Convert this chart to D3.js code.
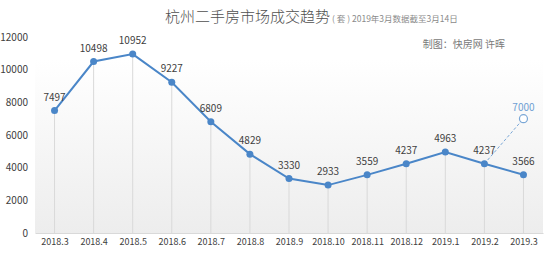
<!DOCTYPE html>
<html><head><meta charset="utf-8">
<script src="https://cdn.jsdelivr.net/npm/d3@7"></script>
<style>body{margin:0;background:#fff}svg{display:block}text{font-family:"Noto Sans CJK SC","DejaVu Sans",sans-serif}</style>
</head><body>
<svg id="c" width="553" height="255"></svg>
<script>
const categories = ["2018.3","2018.4","2018.5","2018.6","2018.7","2018.8","2018.9","2018.10","2018.11","2018.12","2019.1","2019.2","2019.3"];
const values = [7497,10498,10952,9227,6809,4829,3330,2933,3559,4237,4963,4237,3566];
const forecastValue = 7000;
const yTicks = [0,2000,4000,6000,8000,10000,12000];

(function(){
const svg = d3.select("#c");
const pl = 35, pr = 543, pt = 37, pb = 233;
const x = d3.scalePoint().domain(categories).range([pl, pr]).padding(0.5);
const y = d3.scaleLinear().domain([0, 12000]).range([pb, pt]);

const defs = svg.append("defs");
const g = defs.append("linearGradient").attr("id","bg").attr("x1",0).attr("y1",0).attr("x2",0).attr("y2",1);
g.append("stop").attr("offset","0%").attr("stop-color","#ffffff");
g.append("stop").attr("offset","100%").attr("stop-color","#ededed");
svg.append("rect").attr("x",pl).attr("y",60).attr("width",pr-pl).attr("height",pb-60).attr("fill","url(#bg)");

const yAxis = d3.axisLeft(y).tickValues(yTicks).tickSize(0).tickPadding(6).tickFormat(d3.format("d"));
const ya = svg.append("g").attr("transform",`translate(${pl-1},0)`).call(yAxis);
ya.select(".domain").remove();
ya.selectAll("text").attr("fill","#404040").attr("font-size",10);

svg.append("g").selectAll("line").data(values).join("line")
  .attr("x1",(d,i)=>x(categories[i])).attr("x2",(d,i)=>x(categories[i]))
  .attr("y1",d=>y(d)).attr("y2",pb).attr("stroke","#d9d9d9").attr("stroke-width",1);

const xAxis = d3.axisBottom(x).tickSize(0).tickPadding(6);
const xa = svg.append("g").attr("transform",`translate(0,${pb})`).call(xAxis);
xa.select(".domain").attr("stroke","#d9d9d9");
xa.selectAll("text").attr("fill","#404040").attr("font-size",9);

const li = categories.length - 1;
svg.append("line").attr("x1",x(categories[li-1])).attr("y1",y(values[li-1]))
  .attr("x2",x(categories[li])).attr("y2",y(forecastValue))
  .attr("stroke","#7aa7d6").attr("stroke-width",1).attr("stroke-dasharray","3,2");
svg.append("circle").attr("cx",x(categories[li])).attr("cy",y(forecastValue)).attr("r",4)
  .attr("fill","#fff").attr("stroke","#7aa7d6").attr("stroke-width",1.2);
svg.append("text").attr("x",x(categories[li])).attr("y",y(forecastValue)-8).attr("text-anchor","middle")
  .attr("font-size",10).attr("fill","#6f9fd3").text(forecastValue);

const line = d3.line().x((d,i)=>x(categories[i])).y(d=>y(d));
svg.append("path").datum(values).attr("d",line).attr("fill","none").attr("stroke","#4a86c8").attr("stroke-width",2);
svg.append("g").selectAll("circle").data(values).join("circle")
  .attr("cx",(d,i)=>x(categories[i])).attr("cy",d=>y(d)).attr("r",3.5).attr("fill","#4a86c8");
svg.append("g").selectAll("text").data(values).join("text")
  .attr("x",(d,i)=>x(categories[i])).attr("y",d=>y(d)-10).attr("text-anchor","middle")
  .attr("font-size",10).attr("fill","#404040").text(d=>d);

const t = svg.append("text").attr("x",165).attr("y",22).attr("fill","#505050");
t.append("tspan").attr("font-size",15).attr("font-weight",300).text("杭州二手房市场成交趋势");
t.append("tspan").attr("font-size",8.5).attr("fill","#8a8a8a").attr("dx",2).text("( 套 ) 2019年3月数据截至3月14日");
svg.append("text").attr("x",505).attr("y",48).attr("text-anchor","end").attr("font-size",10).attr("fill","#7a7a7a").text("制图：快房网 许晖");
})();
</script>
</body></html>
